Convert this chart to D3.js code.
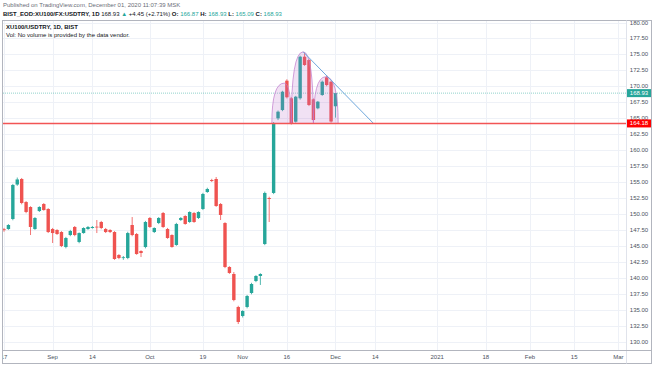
<!DOCTYPE html>
<html>
<head>
<meta charset="utf-8">
<script src="https://cdn.jsdelivr.net/npm/d3@7"></script>
<style>
  body { margin: 0; background: #fff; }
  svg { display: block; font-family: "Liberation Sans", Arial, sans-serif; }
</style>
</head>
<body>
<div id="chart"></div>
<script>
// daily candles, Aug 17 2020 .. Dec 1 2020 (trading-day index 0..75)
var opens  = [147.6,147.63,149.2,154.6,155.47,151.86,151.08,147.63,150.45,151.55,
              150.77,147.63,147.48,147.16,144.81,146.69,147.95,145.6,147.0,147.63,
              147.79,148.0,148.73,147.63,147.48,147.16,143.56,143.1,143.09,148.26,
              146.85,144.18,144.81,149.36,147.16,148.57,150.14,147.63,146.69,145.13,
              149.04,149.67,148.73,150.14,149.36,150.77,153.43,155.31,155.47,151.55,
              148.57,141.68,140.58,135.41,134.0,135.41,137.6,139.48,140.27,145.28,
              152.49,153.28,164.98,166.28,170.88,168.12,164.45,168.12,174.64,174.12,
              167.96,166.55,168.64,171.41,170.72,166.87];
var highs  = [147.8,148.4,154.7,155.7,155.63,152.0,151.2,149.5,151.2,151.7,
              150.9,147.8,147.6,147.3,146.4,147.5,148.1,147.1,147.9,148.1,
              148.1,149.04,148.9,147.8,147.6,147.3,143.7,143.4,147.2,149.51,
              147.0,144.3,148.9,149.5,147.9,149.5,150.3,147.8,146.8,148.6,
              149.5,149.8,150.4,150.3,150.4,153.3,154.1,155.5,155.78,151.7,
              148.7,141.8,140.89,135.6,134.9,137.3,139.2,140.4,140.7,153.5,
              152.7,164.4,166.2,169.3,171.1,168.3,168.5,174.8,175.27,174.3,
              168.1,167.7,170.9,171.77,170.9,168.93];
var lows   = [147.2,147.5,149.0,154.4,151.5,150.1,146.69,147.5,150.3,150.5,
              147.0,145.44,146.7,144.8,144.6,146.5,146.5,145.4,146.9,147.5,
              147.7,147.0,147.6,147.0,147.0,142.8,142.9,142.8,142.9,146.5,
              143.6,143.24,144.6,147.8,147.0,148.4,147.8,146.1,144.7,145.0,
              148.9,148.3,148.6,148.6,149.2,150.6,153.3,155.0,151.1,149.04,
              141.5,140.6,136.3,132.74,133.76,135.2,137.4,139.3,138.86,145.1,
              148.73,153.1,164.7,166.1,168.1,164.0,164.3,167.9,173.2,166.9,
              164.5,166.4,168.5,170.0,164.3,165.09];
var closes = [147.45,148.26,154.53,155.4,151.71,150.3,147.95,149.36,151.08,150.61,
              147.16,147.0,146.85,144.97,146.22,147.32,146.69,147.0,147.79,147.95,
              147.95,147.9,147.79,147.16,147.16,142.93,143.09,143.2,147.0,146.69,
              143.71,143.87,148.73,147.95,147.79,149.36,147.95,146.22,144.81,148.42,
              149.36,148.42,150.3,148.73,150.3,153.12,153.9,155.16,151.24,149.83,
              141.68,140.74,136.5,133.06,134.78,137.13,139.01,140.27,140.58,153.28,
              152.34,164.2,166.02,169.15,168.28,164.2,168.37,174.64,173.34,167.07,
              164.72,167.59,170.72,170.2,164.48,168.93];

// time axis ticks (trading-day index) and labels
var xTickIdx    = [0, 11, 20, 33, 45, 54, 64, 75, 84, 98, 109, 119, 129, 139];
var xTickLabels = ["17", "Sep", "14", "Oct", "19", "Nov", "16", "Dec", "14", "2021", "18", "Feb", "15", "Mar"];

// price axis ticks
var yTicks = [130, 132.5, 135, 137.5, 140, 142.5, 145, 147.5, 150, 152.5, 155,
              157.5, 160, 162.5, 165, 167.5, 170, 172.5, 175, 177.5, 180];

// drawings: neckline, head & shoulders arcs, falling trend line
var neckline = 164.18;
var lastPrice = 168.93;
var arcStart = [60.6, 65.0, 70.0];
var arcPeakIdx = [63.4, 67.7, 72.8];
var arcEnd = [65.0, 70.0, 75.6];
var arcPeak = [170.5, 175.4, 171.5];
var trendFrom = [67.7, 175.4];
var trendTo = [83.6, 164.18];

function init() {
    var width = 654;
    var height = 366;
    var left = 3, right = 626, top = 21, bottom = 350;
    var green = "#26a69a", red = "#ef5350";
    var fs = 6;

    var svg = d3.select("#chart")
        .append("svg")
        .attr("width", width)
        .attr("height", height);

    var x = d3.scaleLinear().domain([0, 139]).range([4, 4 + 139 * 4.42]);
    var y = d3.scaleLinear().domain([130, 180]).range([341.5, 22.5]);

    svg.append("clipPath").attr("id", "plot")
        .append("rect")
        .attr("x", left).attr("y", top)
        .attr("width", right - left).attr("height", bottom - top);

    var plot = svg.append("g").attr("clip-path", "url(#plot)");

    // grid
    plot.selectAll("line.hg")
        .data(yTicks)
        .enter()
        .append("line")
        .attr("x1", left).attr("x2", right)
        .attr("y1", d => Math.round(y(d)) + 0.5)
        .attr("y2", d => Math.round(y(d)) + 0.5)
        .attr("stroke", "#eef1f7");

    plot.selectAll("line.vg")
        .data(xTickIdx)
        .enter()
        .append("line")
        .attr("x1", d => Math.round(x(d)) + 0.5)
        .attr("x2", d => Math.round(x(d)) + 0.5)
        .attr("y1", top).attr("y2", bottom)
        .attr("stroke", "#eef1f7");

    // last price line
    plot.append("line")
        .attr("x1", left).attr("x2", right)
        .attr("y1", y(lastPrice)).attr("y2", y(lastPrice))
        .attr("stroke", green)
        .attr("stroke-opacity", 0.5)
        .attr("stroke-dasharray", "1,1");

    // candles
    var idx = d3.range(opens.length);
    plot.selectAll("line.wick")
        .data(idx)
        .enter()
        .append("line")
        .attr("x1", i => x(i)).attr("x2", i => x(i))
        .attr("y1", i => y(highs[i])).attr("y2", i => y(lows[i]))
        .attr("stroke", i => closes[i] >= opens[i] ? green : red)
        .attr("stroke-width", 0.8);

    plot.selectAll("rect.body")
        .data(idx)
        .enter()
        .append("rect")
        .attr("x", i => x(i) - 1.7)
        .attr("width", 3.4)
        .attr("y", i => y(Math.max(opens[i], closes[i])))
        .attr("height", i => Math.max(0.8, Math.abs(y(opens[i]) - y(closes[i]))))
        .attr("fill", i => closes[i] >= opens[i] ? green : red);

    // head and shoulders arcs
    var base = y(neckline);
    plot.selectAll("path.arc")
        .data(arcPeak)
        .enter()
        .append("path")
        .attr("d", function (p, k) {
            var x0 = x(arcStart[k]), xm = x(arcPeakIdx[k]), x1 = x(arcEnd[k]), yp = y(p);
            return "M" + x0 + "," + base +
                "Q" + x0 + "," + yp + " " + xm + "," + yp +
                "Q" + x1 + "," + yp + " " + x1 + "," + base + "Z";
        })
        .attr("fill", "rgba(186,104,200,0.2)")
        .attr("stroke", "#c07acb")
        .attr("stroke-width", 0.7);

    // trend line
    plot.append("line")
        .attr("x1", x(trendFrom[0])).attr("y1", y(trendFrom[1]))
        .attr("x2", x(trendTo[0])).attr("y2", y(trendTo[1]))
        .attr("stroke", "#6fa8dc")
        .attr("stroke-width", 1);

    // neckline
    plot.append("line")
        .attr("x1", left).attr("x2", right)
        .attr("y1", base).attr("y2", base)
        .attr("stroke", "#f25555")
        .attr("stroke-width", 1.4);

    // pane borders
    svg.append("rect")
        .attr("x", 2.5).attr("y", 20.5)
        .attr("width", 649).attr("height", 343)
        .attr("fill", "none")
        .attr("stroke", "#b2b5be");
    svg.append("line")
        .attr("x1", right + 0.5).attr("x2", right + 0.5)
        .attr("y1", 20.5).attr("y2", 363.5)
        .attr("stroke", "#e0e3eb");
    svg.append("line")
        .attr("x1", 2.5).attr("x2", 651.5)
        .attr("y1", bottom + 0.5).attr("y2", bottom + 0.5)
        .attr("stroke", "#b2b5be");

    // price axis labels
    svg.selectAll("text.yl")
        .data(yTicks)
        .enter()
        .append("text")
        .attr("x", 639)
        .attr("y", d => y(d) + 2)
        .attr("text-anchor", "middle")
        .attr("font-size", fs)
        .attr("fill", "#4c525e")
        .text(d => d.toFixed(2));

    // price tags
    var tags = [[lastPrice, green], [neckline, "#f00"]];
    tags.forEach(function (t) {
        svg.append("rect")
            .attr("x", 627).attr("y", y(t[0]) - 4)
            .attr("width", 24).attr("height", 8)
            .attr("fill", t[1]);
        svg.append("text")
            .attr("x", 639).attr("y", y(t[0]) + 2)
            .attr("text-anchor", "middle")
            .attr("font-size", fs)
            .attr("fill", "#fff")
            .text(t[0].toFixed(2));
    });

    // time axis labels
    svg.append("clipPath").attr("id", "tclip")
        .append("rect").attr("x", 3).attr("y", 351).attr("width", 623).attr("height", 12);
    svg.append("g")
        .attr("clip-path", "url(#tclip)")
        .selectAll("text")
        .data(xTickIdx)
        .enter()
        .append("text")
        .attr("x", d => x(d))
        .attr("y", 358.5)
        .attr("text-anchor", "middle")
        .attr("font-size", fs)
        .attr("fill", "#4c525e")
        .text((d, k) => xTickLabels[k]);

    // header
    svg.append("text")
        .attr("x", 3).attr("y", 7)
        .attr("font-size", fs)
        .attr("fill", "#6a6d78")
        .text("Published on TradingView.com, December 01, 2020 11:07:39 MSK");

    var h2 = svg.append("text")
        .attr("x", 3).attr("y", 15.5)
        .attr("font-size", fs)
        .attr("fill", "#131722");
    h2.append("tspan").attr("font-weight", "bold").text("BIST_EOD:XU100/FX:USDTRY, 1D ");
    h2.append("tspan").text(" 168.93 ");
    h2.append("tspan").attr("fill", green).text("\u25B2");
    h2.append("tspan").text(" +4.45 (+2.71%) ");
    [["O:", opens[75]], ["H:", highs[75]], ["L:", lows[75]], ["C:", closes[75]]].forEach(function (p) {
        h2.append("tspan").attr("font-weight", "bold").text(" " + p[0]);
        h2.append("tspan").attr("fill", green).text(" " + p[1].toFixed(2));
    });

    // legend
    svg.append("text")
        .attr("x", 6).attr("y", 28.5)
        .attr("font-size", fs)
        .attr("font-weight", "bold")
        .attr("fill", "#131722")
        .text("XU100/USDTRY, 1D, BIST");
    svg.append("text")
        .attr("x", 6).attr("y", 36.5)
        .attr("font-size", fs)
        .attr("fill", "#131722")
        .text("Vol: No volume is provided by the data vendor.");
}

window.onload = init;
</script>
</body>
</html>
